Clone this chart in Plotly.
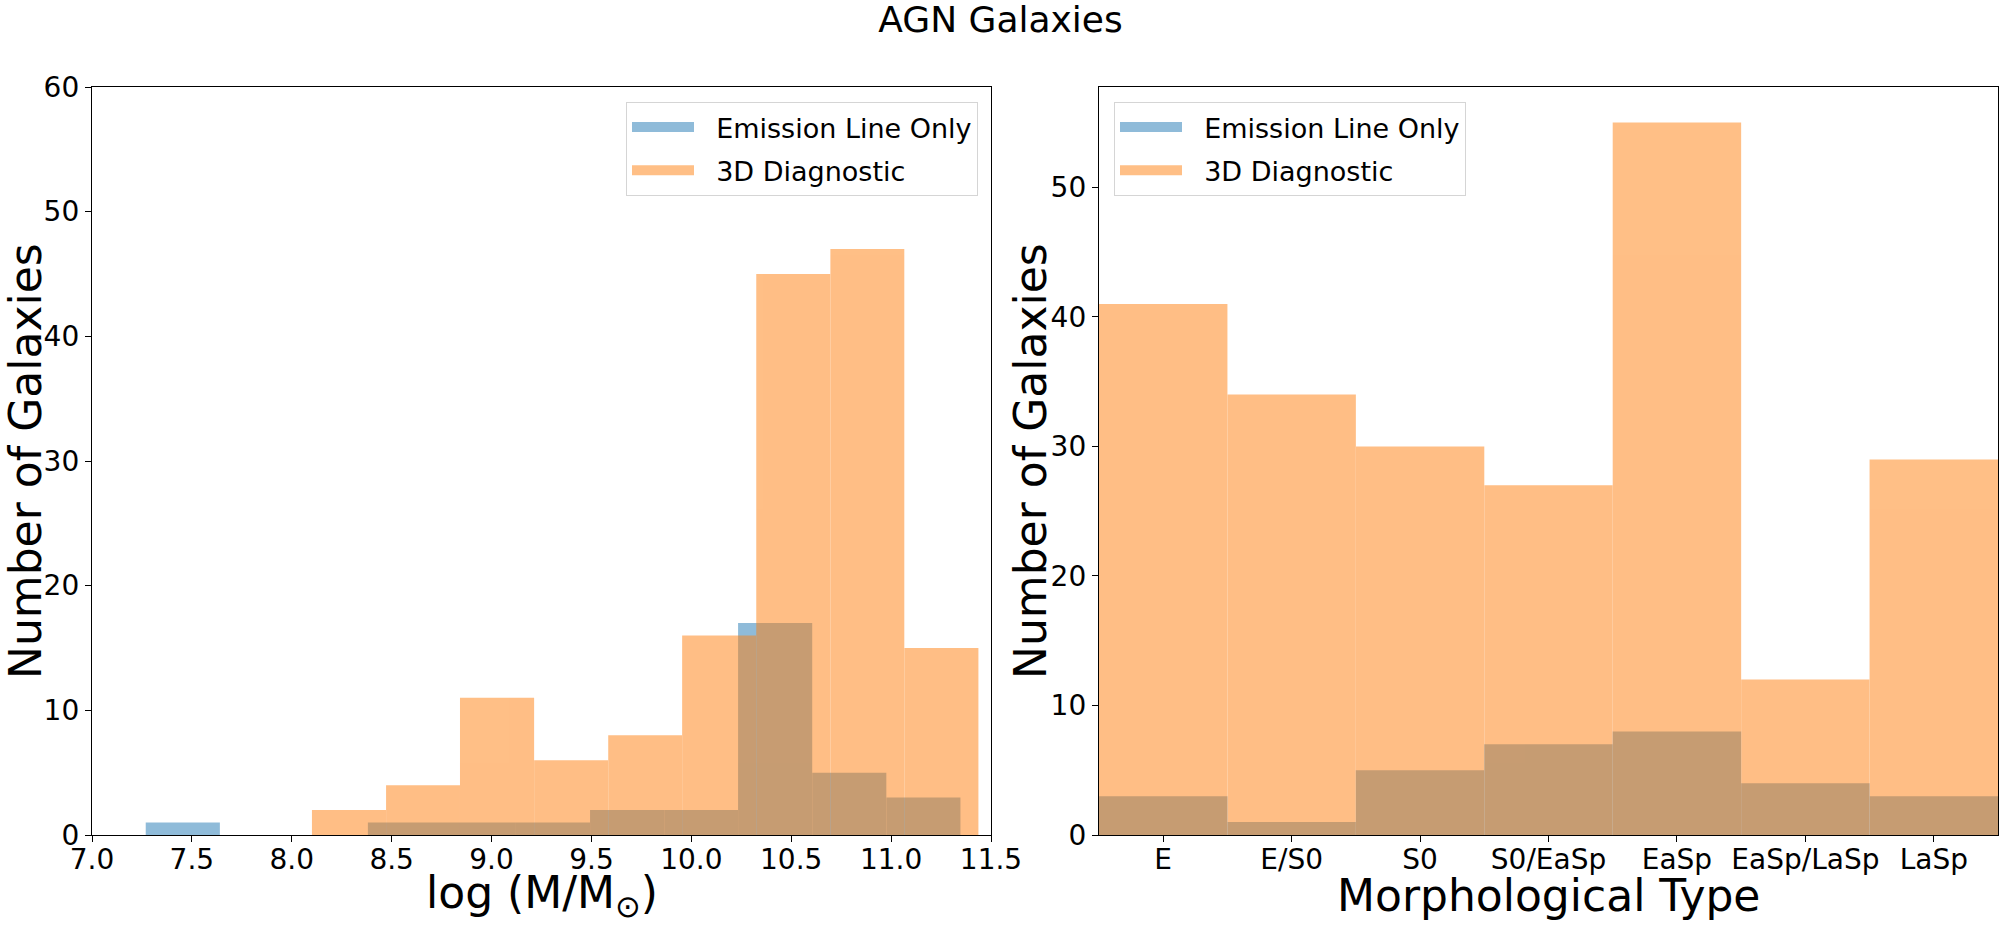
import numpy as np
import plotly.graph_objects as go

# ---------------- data ----------------
mass_edges_emission = [7.269, 7.640, 8.010, 8.381, 8.752, 9.122, 9.493,
                       9.864, 10.234, 10.605, 10.976, 11.347]
mass_counts_emission = [1, 0, 0, 1, 1, 1, 2, 2, 17, 5, 3]

mass_edges_diag = [8.101, 8.472, 8.842, 9.213, 9.584, 9.954, 10.325,
                   10.696, 11.066, 11.437]
mass_counts_diag = [2, 4, 11, 6, 8, 16, 45, 47, 15]

morph_types = ["E", "E/S0", "S0", "S0/EaSp", "EaSp", "EaSp/LaSp", "LaSp"]
morph_counts_emission = [3, 1, 5, 7, 8, 4, 3]
morph_counts_diag = [41, 34, 30, 27, 55, 12, 29]

mass_ticks = [7.0, 7.5, 8.0, 8.5, 9.0, 9.5, 10.0, 10.5, 11.0, 11.5]
left_yticks = [0, 10, 20, 30, 40, 50, 60]
right_yticks = [0, 10, 20, 30, 40, 50]

series_names = ["Emission Line Only", "3D Diagnostic"]
# ----------------------------------------------------------------

BLUE = "#1f77b4"
ORANGE = "#ff7f0e"
COLORS = [BLUE, ORANGE]
FONT = "DejaVu Sans"
W, H = 2001, 931
GAP = "\u00a0\u00a0"  # spacing between legend patch and label


def centers_widths(edges):
    e = np.asarray(edges, dtype=float)
    return (e[:-1] + e[1:]) / 2.0, np.diff(e)


fig = go.Figure()

xe, we = centers_widths(mass_edges_emission)
xd, wd = centers_widths(mass_edges_diag)

fig.add_trace(go.Bar(x=xe, y=mass_counts_emission, width=we, name=series_names[0],
                     marker=dict(color=BLUE, line=dict(width=0)), opacity=0.5,
                     xaxis="x", yaxis="y", showlegend=False))
fig.add_trace(go.Bar(x=xd, y=mass_counts_diag, width=wd, name=series_names[1],
                     marker=dict(color=ORANGE, line=dict(width=0)), opacity=0.5,
                     xaxis="x", yaxis="y", showlegend=False))

fig.add_trace(go.Bar(x=morph_types, y=morph_counts_emission, width=1, name=series_names[0],
                     marker=dict(color=BLUE, line=dict(width=0)), opacity=0.5,
                     xaxis="x2", yaxis="y2", showlegend=False))
fig.add_trace(go.Bar(x=morph_types, y=morph_counts_diag, width=1, name=series_names[1],
                     marker=dict(color=ORANGE, line=dict(width=0)), opacity=0.5,
                     xaxis="x2", yaxis="y2", showlegend=False))

# legend-only entries drawn as wide patches (like matplotlib's legend handles)
for lg, (xa, ya) in [("legend", ("x", "y")), ("legend2", ("x2", "y2"))]:
    for i, (nm, col) in enumerate(zip(series_names, COLORS)):
        fig.add_trace(go.Scatter(x=[None], y=[None], mode="lines", name=GAP + nm,
                                 line=dict(color=col, width=18), opacity=0.5,
                                 xaxis=xa, yaxis=ya, legend=lg,
                                 legendgroup=f"{lg}{i}", hoverinfo="skip"))

y_dom = [1 - 835 / H, 1 - 87 / H]
axis_common = dict(showline=True, linecolor="black", linewidth=1.3, mirror=True,
                   ticks="outside", ticklen=6, tickwidth=1.3, tickcolor="black",
                   showgrid=False, zeroline=False, automargin=False,
                   tickfont=dict(family=FONT, size=28, color="black"))

legend_common = dict(font=dict(family=FONT, size=27, color="black"),
                     bgcolor="rgba(255,255,255,0.8)", bordercolor="#d5d5d5",
                     borderwidth=1, tracegroupgap=5, traceorder="grouped",
                     yanchor="top", y=1 - 102 / H, itemwidth=62)

fig.update_layout(
    width=W, height=H,
    margin=dict(l=0, r=0, t=0, b=0, autoexpand=False),
    paper_bgcolor="white", plot_bgcolor="white",
    barmode="overlay",
    font=dict(family=FONT, color="black"),
    title=dict(text="AGN Galaxies", x=0.5, xanchor="center", xref="paper",
               y=1 - 19 / H, yanchor="middle", yref="container", automargin=False,
               font=dict(family=FONT, size=36, color="black")),
    xaxis=dict(domain=[92 / W, 991 / W], range=[7.0, 11.5], tickvals=mass_ticks,
               tickformat=".1f", anchor="y", ticklabelstandoff=-7, **axis_common),
    yaxis=dict(domain=y_dom, range=[0, 60], tickvals=left_yticks, anchor="x",
               **axis_common),
    xaxis2=dict(domain=[1099 / W, 1998 / W], range=[-0.5, 6.5], type="category",
                anchor="y2", ticklabelstandoff=-7, **axis_common),
    yaxis2=dict(domain=y_dom, range=[0, 57.75], tickvals=right_yticks, anchor="x2",
                **axis_common),
    legend=dict(x=978 / W, xanchor="right", **legend_common),
    legend2=dict(x=1114 / W, xanchor="left", **legend_common),
)

label_font = dict(family=FONT, size=44, color="black")
annotations = [
    dict(text="log (M/M<sub>⊙</sub>)", x=(92 + 991) / 2 / W, y=1 - 895 / H,
         xanchor="center", yanchor="middle"),
    dict(text="Morphological Type", x=(1099 + 1998) / 2 / W, y=1 - 895 / H,
         xanchor="center", yanchor="middle"),
    dict(text="Number of Galaxies", x=25 / W, y=1 - 461 / H, textangle=-90,
         xanchor="center", yanchor="middle"),
    dict(text="Number of Galaxies", x=1030 / W, y=1 - 461 / H, textangle=-90,
         xanchor="center", yanchor="middle"),
]
for a in annotations:
    fig.add_annotation(xref="paper", yref="paper", showarrow=False, font=label_font, **a)

fig.write_html("out.html", config={"displayModeBar": False},
               post_script="document.body.style.margin='0';document.body.style.overflow='hidden';")
